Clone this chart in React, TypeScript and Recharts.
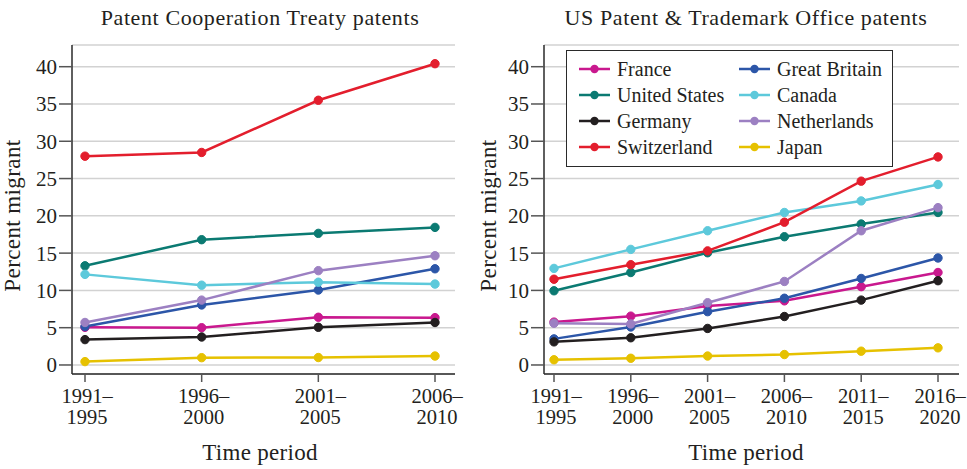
import React from 'react';
import { LineChart, Line, XAxis, YAxis, CartesianGrid } from 'recharts';

const pctPeriods = ['1991–1995', '1996–2000', '2001–2005', '2006–2010'];
const usptoPeriods = ['1991–1995', '1996–2000', '2001–2005', '2006–2010', '2011–2015', '2016–2020'];
const countries = ['France', 'Great Britain', 'United States', 'Canada', 'Germany', 'Netherlands', 'Switzerland', 'Japan'];
const countryColors = ['#c9188e', '#2c56a8', '#0b7a72', '#5dc9db', '#231f20', '#9c80c2', '#e31e2d', '#e6c100'];
const yTicks = [0, 5, 10, 15, 20, 25, 30, 35, 40];

const pctFrance = [5.05, 5.0, 6.4, 6.35];
const pctGreatBritain = [5.15, 8.05, 10.05, 12.9];
const pctUnitedStates = [13.3, 16.8, 17.65, 18.45];
const pctCanada = [12.15, 10.7, 11.1, 10.85];
const pctGermany = [3.4, 3.75, 5.05, 5.7];
const pctNetherlands = [5.7, 8.7, 12.65, 14.65];
const pctSwitzerland = [28.0, 28.5, 35.5, 40.4];
const pctJapan = [0.45, 0.98, 1.0, 1.2];

const usptoFrance = [5.75, 6.55, 7.9, 8.6, 10.5, 12.4];
const usptoGreatBritain = [3.5, 5.1, 7.15, 8.95, 11.6, 14.35];
const usptoUnitedStates = [9.95, 12.4, 15.05, 17.2, 18.9, 20.45];
const usptoCanada = [12.95, 15.5, 18.0, 20.45, 22.0, 24.2];
const usptoGermany = [3.1, 3.65, 4.9, 6.5, 8.7, 11.3];
const usptoNetherlands = [5.6, 5.5, 8.35, 11.2, 18.0, 21.1];
const usptoSwitzerland = [11.5, 13.45, 15.3, 19.15, 24.65, 27.9];
const usptoJapan = [0.7, 0.9, 1.2, 1.4, 1.85, 2.3];

const pctSeries = [pctFrance, pctGreatBritain, pctUnitedStates, pctCanada, pctGermany, pctNetherlands, pctSwitzerland, pctJapan];
const usptoSeries = [usptoFrance, usptoGreatBritain, usptoUnitedStates, usptoCanada, usptoGermany, usptoNetherlands, usptoSwitzerland, usptoJapan];

const buildRows = (periods: string[], series: number[][]) =>
  periods.map((p, i) => {
    const row: Record<string, any> = { period: p };
    countries.forEach((c, k) => {
      row[c] = series[k][i];
    });
    return row;
  });

const pctData = buildRows(pctPeriods, pctSeries);
const usptoData = buildRows(usptoPeriods, usptoSeries);

const FONT = 'Liberation Serif';
const TEXT = '#231f20';

const PeriodTick = (props: any) => {
  const { x, y, payload } = props;
  const value: string = payload.value;
  const idx = value.indexOf('–');
  const first = value.slice(0, idx + 1);
  const second = value.slice(idx + 1);
  return (
    <g>
      <text x={x + 2} y={y + 19} textAnchor="middle" fontFamily={FONT} style={{ fontFamily: FONT }} fontSize={20.5} fill={TEXT}>
        {first}
      </text>
      <text x={x + 2} y={y + 40} textAnchor="middle" fontFamily={FONT} style={{ fontFamily: FONT }} fontSize={20.5} fill={TEXT}>
        {second}
      </text>
    </g>
  );
};

type PanelProps = {
  title: string;
  data: any[];
  width: number;
  marginLeft: number;
  marginRight: number;
  padLeft: number;
  padRight: number;
  yLabelX: number;
};

const Panel = ({ title, data, width, marginLeft, marginRight, padLeft, padRight, yLabelX }: PanelProps) => {
  const yAxisWidth = 62;
  const plotLeft = marginLeft + yAxisWidth;
  const plotRight = width - marginRight;
  const centerX = (plotLeft + padLeft + plotRight - padRight) / 2;
  return (
    <LineChart
      width={width}
      height={469}
      data={data}
      margin={{ top: 45, right: marginRight, left: marginLeft, bottom: 0 }}
    >
      <CartesianGrid vertical={false} stroke="#d2d2d2" strokeWidth={1.5} />
      <XAxis
        dataKey="period"
        type="category"
        interval={0}
        padding={{ left: padLeft, right: padRight }}
        height={95}
        tickSize={8}
        tickMargin={2}
        tick={<PeriodTick />}
        axisLine={{ stroke: '#2a2a2a', strokeWidth: 1.5 }}
        tickLine={{ stroke: '#555', strokeWidth: 1.5 }}
      />
      <YAxis
        type="number"
        domain={[-1.21, 42.91]}
        ticks={yTicks}
        allowDataOverflow
        width={yAxisWidth}
        tickSize={13}
        tickMargin={2}
        tick={{ fontFamily: FONT, fontSize: 21, fill: TEXT, style: { fontFamily: FONT } }}
        axisLine={{ stroke: '#2a2a2a', strokeWidth: 1.5 }}
        tickLine={{ stroke: '#555', strokeWidth: 1.5 }}
      />
      {countries.map((c, k) => (
        <Line
          key={c}
          type="linear"
          dataKey={c}
          stroke={countryColors[k]}
          strokeWidth={2.5}
          dot={{ r: 4.2, fill: countryColors[k], stroke: countryColors[k], strokeWidth: 1 }}
          activeDot={false}
          isAnimationActive={false}
        />
      ))}
      <text x={centerX} y={25} textAnchor="middle" fontFamily={FONT} style={{ fontFamily: FONT }} fontSize={22} letterSpacing={0.6} fill={TEXT}>
        {title}
      </text>
      <text x={centerX} y={460} textAnchor="middle" fontFamily={FONT} style={{ fontFamily: FONT }} fontSize={23} letterSpacing={0.3} fill={TEXT}>
        Time period
      </text>
      <text
        x={yLabelX}
        y={215.5}
        transform={`rotate(-90, ${yLabelX}, 215.5)`}
        textAnchor="middle"
        fontFamily={FONT}
        style={{ fontFamily: FONT }}
        fontSize={23}
        letterSpacing={0.4}
        fill={TEXT}
      >
        Percent migrant
      </text>
    </LineChart>
  );
};

const LegendBox = () => (
  <div
    style={{
      position: 'absolute',
      left: 566,
      top: 50,
      width: 327,
      height: 117,
      boxSizing: 'border-box',
      border: '1.5px solid #2a2a2a',
      background: '#fff',
    }}
  >
    {countries.map((c, k) => {
      const col = k % 2;
      const row = Math.floor(k / 2);
      return (
        <div
          key={c}
          style={{
            position: 'absolute',
            left: col === 0 ? 12 : 172,
            top: 5 + row * 26,
            height: 26,
            display: 'flex',
            alignItems: 'center',
            fontFamily: FONT,
            fontSize: 20,
            color: TEXT,
            whiteSpace: 'nowrap',
          }}
        >
          <svg width={31} height={12} style={{ marginRight: 7 }}>
            <line x1={0} y1={6} x2={31} y2={6} stroke={countryColors[k]} strokeWidth={2.5} />
            <circle cx={15.5} cy={6} r={4.2} fill={countryColors[k]} />
          </svg>
          <span>{c}</span>
        </div>
      );
    })}
  </div>
);

export default function App() {
  return (
    <div style={{ position: 'absolute', left: 0, top: 0, width: 967, height: 469, background: '#fff', fontFamily: FONT }}>
      <div style={{ position: 'absolute', left: 0, top: 0 }}>
        <Panel
          title="Patent Cooperation Treaty patents"
          data={pctData}
          width={480}
          marginLeft={10}
          marginRight={25}
          padLeft={13}
          padRight={20}
          yLabelX={20}
        />
      </div>
      <div style={{ position: 'absolute', left: 470, top: 0 }}>
        <Panel
          title="US Patent & Trademark Office patents"
          data={usptoData}
          width={497}
          marginLeft={12}
          marginRight={8}
          padLeft={10}
          padRight={21}
          yLabelX={26}
        />
      </div>
      <LegendBox />
    </div>
  );
}
